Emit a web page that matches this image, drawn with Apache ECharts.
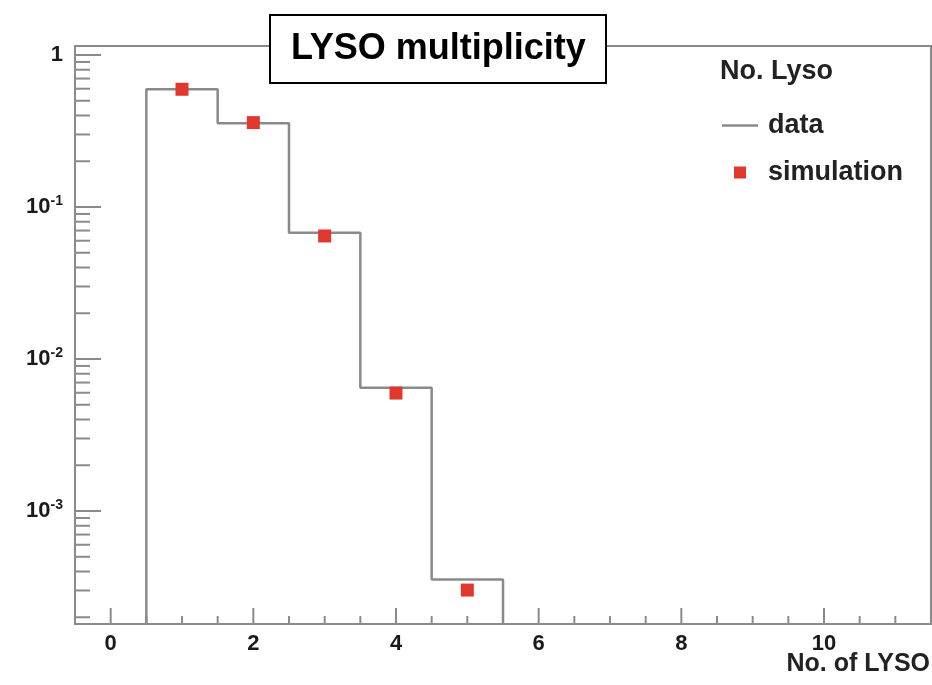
<!DOCTYPE html>
<html><head><meta charset="utf-8">
<script src="https://cdn.jsdelivr.net/npm/echarts@6/dist/echarts.min.js"></script>
<style>html,body{margin:0;padding:0;background:#fff}#c{width:932px;height:685px}</style>
</head><body><div id="c"></div>
<script>
// ---- data ----
const binCenters = [1, 2, 3, 4, 5];
const dataValues = [0.595, 0.355, 0.0678, 0.00647, 0.000355];
const simValues  = [0.595, 0.359, 0.0645, 0.00597, 0.000302];
const xMajorTicks = [0, 2, 4, 6, 8, 10];
const xMinorTicks = [0.5, 1, 1.5, 2.5, 3, 3.5, 4.5, 5, 5.5, 6.5, 7, 7.5, 8.5, 9, 9.5, 10.5, 11];
const yDecades = [1e-4, 1e-3, 1e-2, 1e-1, 1];
const yMinorFactors = [2, 3, 4, 5, 6, 7, 8, 9];
const X_MIN = -0.5, X_MAX = 11.5, Y_MIN = 1.806e-4, Y_MAX = 1.146;
const BIN_WIDTH = 1;

const GRAY = '#8a8a8a';
const RED = '#e0382c';
const FONT = 'Liberation Sans, Arial, Helvetica, sans-serif';

// histogram outline built from bins
const stepPts = [];
binCenters.forEach((c, i) => {
  const lo = c - BIN_WIDTH / 2, hi = c + BIN_WIDTH / 2;
  if (i === 0) stepPts.push([lo, Y_MIN]);
  stepPts.push([lo, dataValues[i]]);
  stepPts.push([hi, dataValues[i]]);
  if (i === binCenters.length - 1) stepPts.push([hi, Y_MIN]);
});
const simPts = binCenters.map((c, i) => [c, simValues[i]]);

// ROOT-style tick marks
const tickData = [];
xMajorTicks.forEach(v => tickData.push([v, Y_MIN, 0]));
xMinorTicks.forEach(v => tickData.push([v, Y_MIN, 1]));
yDecades.forEach(d => {
  if (d >= Y_MIN && d <= Y_MAX) tickData.push([X_MIN, d, 2]);
  yMinorFactors.forEach(f => { const v = d * f; if (v > Y_MIN && v < Y_MAX) tickData.push([X_MIN, v, 3]); });
});
const tickLen = [16, 8, 26, 15];

const chart = echarts.init(document.getElementById('c'), null, {renderer: 'canvas'});
chart.setOption({
  animation: false,
  backgroundColor: '#fff',
  textStyle: {fontFamily: FONT},
  title: [
    {text: 'LYSO multiplicity', left: 270, top: 15, borderColor: '#000', borderWidth: 2,
     backgroundColor: '#fff', padding: [13, 21, 13, 21], z: 10,
     textStyle: {fontFamily: FONT, fontWeight: 'bold', fontSize: 36, color: '#000', lineHeight: 42}},
    {text: 'No. Lyso', left: 720, top: 58, padding: 0,
     textStyle: {fontFamily: FONT, fontWeight: 'bold', fontSize: 27, color: '#222'}},
    {text: 'No. of LYSO', right: 2, top: 652, padding: 0,
     textStyle: {fontFamily: FONT, fontWeight: 'bold', fontSize: 25, color: '#222'}}
  ],
  legend: {
    orient: 'vertical', left: 722, top: 112, padding: 0, itemWidth: 36, itemHeight: 12, itemGap: 20,
    selectedMode: false, symbolKeepAspect: true,
    data: [
      {name: 'data', icon: 'path://M0,0H36V2.5H0Z', itemStyle: {color: GRAY}},
      {name: 'simulation', icon: 'path://M0,0H10V10H0Z', itemStyle: {color: RED}}
    ],
    textStyle: {fontFamily: FONT, fontSize: 27, fontWeight: 'bold', color: '#222', padding: [0, 0, 0, 5]}
  },
  grid: {left: 75, right: 1, top: 46, bottom: 61, containLabel: false, outerBoundsMode: 'none',
         show: true, borderColor: GRAY, borderWidth: 2, backgroundColor: 'transparent'},
  xAxis: {
    type: 'value', min: X_MIN, max: X_MAX, splitNumber: 6,
    axisLine: {show: true, onZero: false, lineStyle: {color: GRAY, width: 2}},
    axisTick: {show: false}, splitLine: {show: false},
    axisLabel: {margin: 9, fontFamily: FONT, fontSize: 22, fontWeight: 'bold', color: '#1a1a1a',
      formatter: v => (Number.isInteger(v) && v % 2 === 0 && v >= 0) ? String(v) : ''}
  },
  yAxis: {
    type: 'log', logBase: 10, min: Y_MIN, max: Y_MAX,
    axisLine: {show: true, onZero: false, lineStyle: {color: GRAY, width: 2}},
    axisTick: {show: false}, splitLine: {show: false}, minorTick: {show: false},
    axisLabel: {
      margin: 12, fontFamily: FONT, color: '#1a1a1a',
      formatter: v => {
        const e = Math.log10(v), r = Math.round(e);
        if (Math.abs(e - r) > 1e-6) return '';
        if (r === 0) return '{b|1}';
        return '{b|10}{s|' + r + '}';
      },
      rich: {
        b: {fontFamily: FONT, fontSize: 22, fontWeight: 'bold', color: '#1a1a1a', lineHeight: 26},
        s: {fontFamily: FONT, fontSize: 14, fontWeight: 'bold', color: '#1a1a1a', verticalAlign: 'top', lineHeight: 14}
      }
    }
  },
  series: [
    {name: 'ticks', type: 'custom', clip: false, silent: true, z: 1,
     encode: {x: 0, y: 1}, data: tickData,
     renderItem: (params, api) => {
       const kind = api.value(2);
       const p = api.coord([api.value(0), api.value(1)]);
       const L = tickLen[kind];
       const shape = kind < 2 ? {x1: p[0], y1: p[1], x2: p[0], y2: p[1] - L}
                              : {x1: p[0], y1: p[1], x2: p[0] + L, y2: p[1]};
       return {type: 'line', shape: shape, style: {stroke: GRAY, lineWidth: 2}};
     }},
    {name: 'data', type: 'line', data: stepPts, symbol: 'none', showSymbol: false, z: 3,
     color: GRAY, lineStyle: {color: GRAY, width: 2.5}},
    {name: 'simulation', type: 'scatter', data: simPts, symbol: 'rect', symbolSize: 13, z: 4,
     itemStyle: {color: RED, opacity: 1}}
  ]
});
</script></body></html>
